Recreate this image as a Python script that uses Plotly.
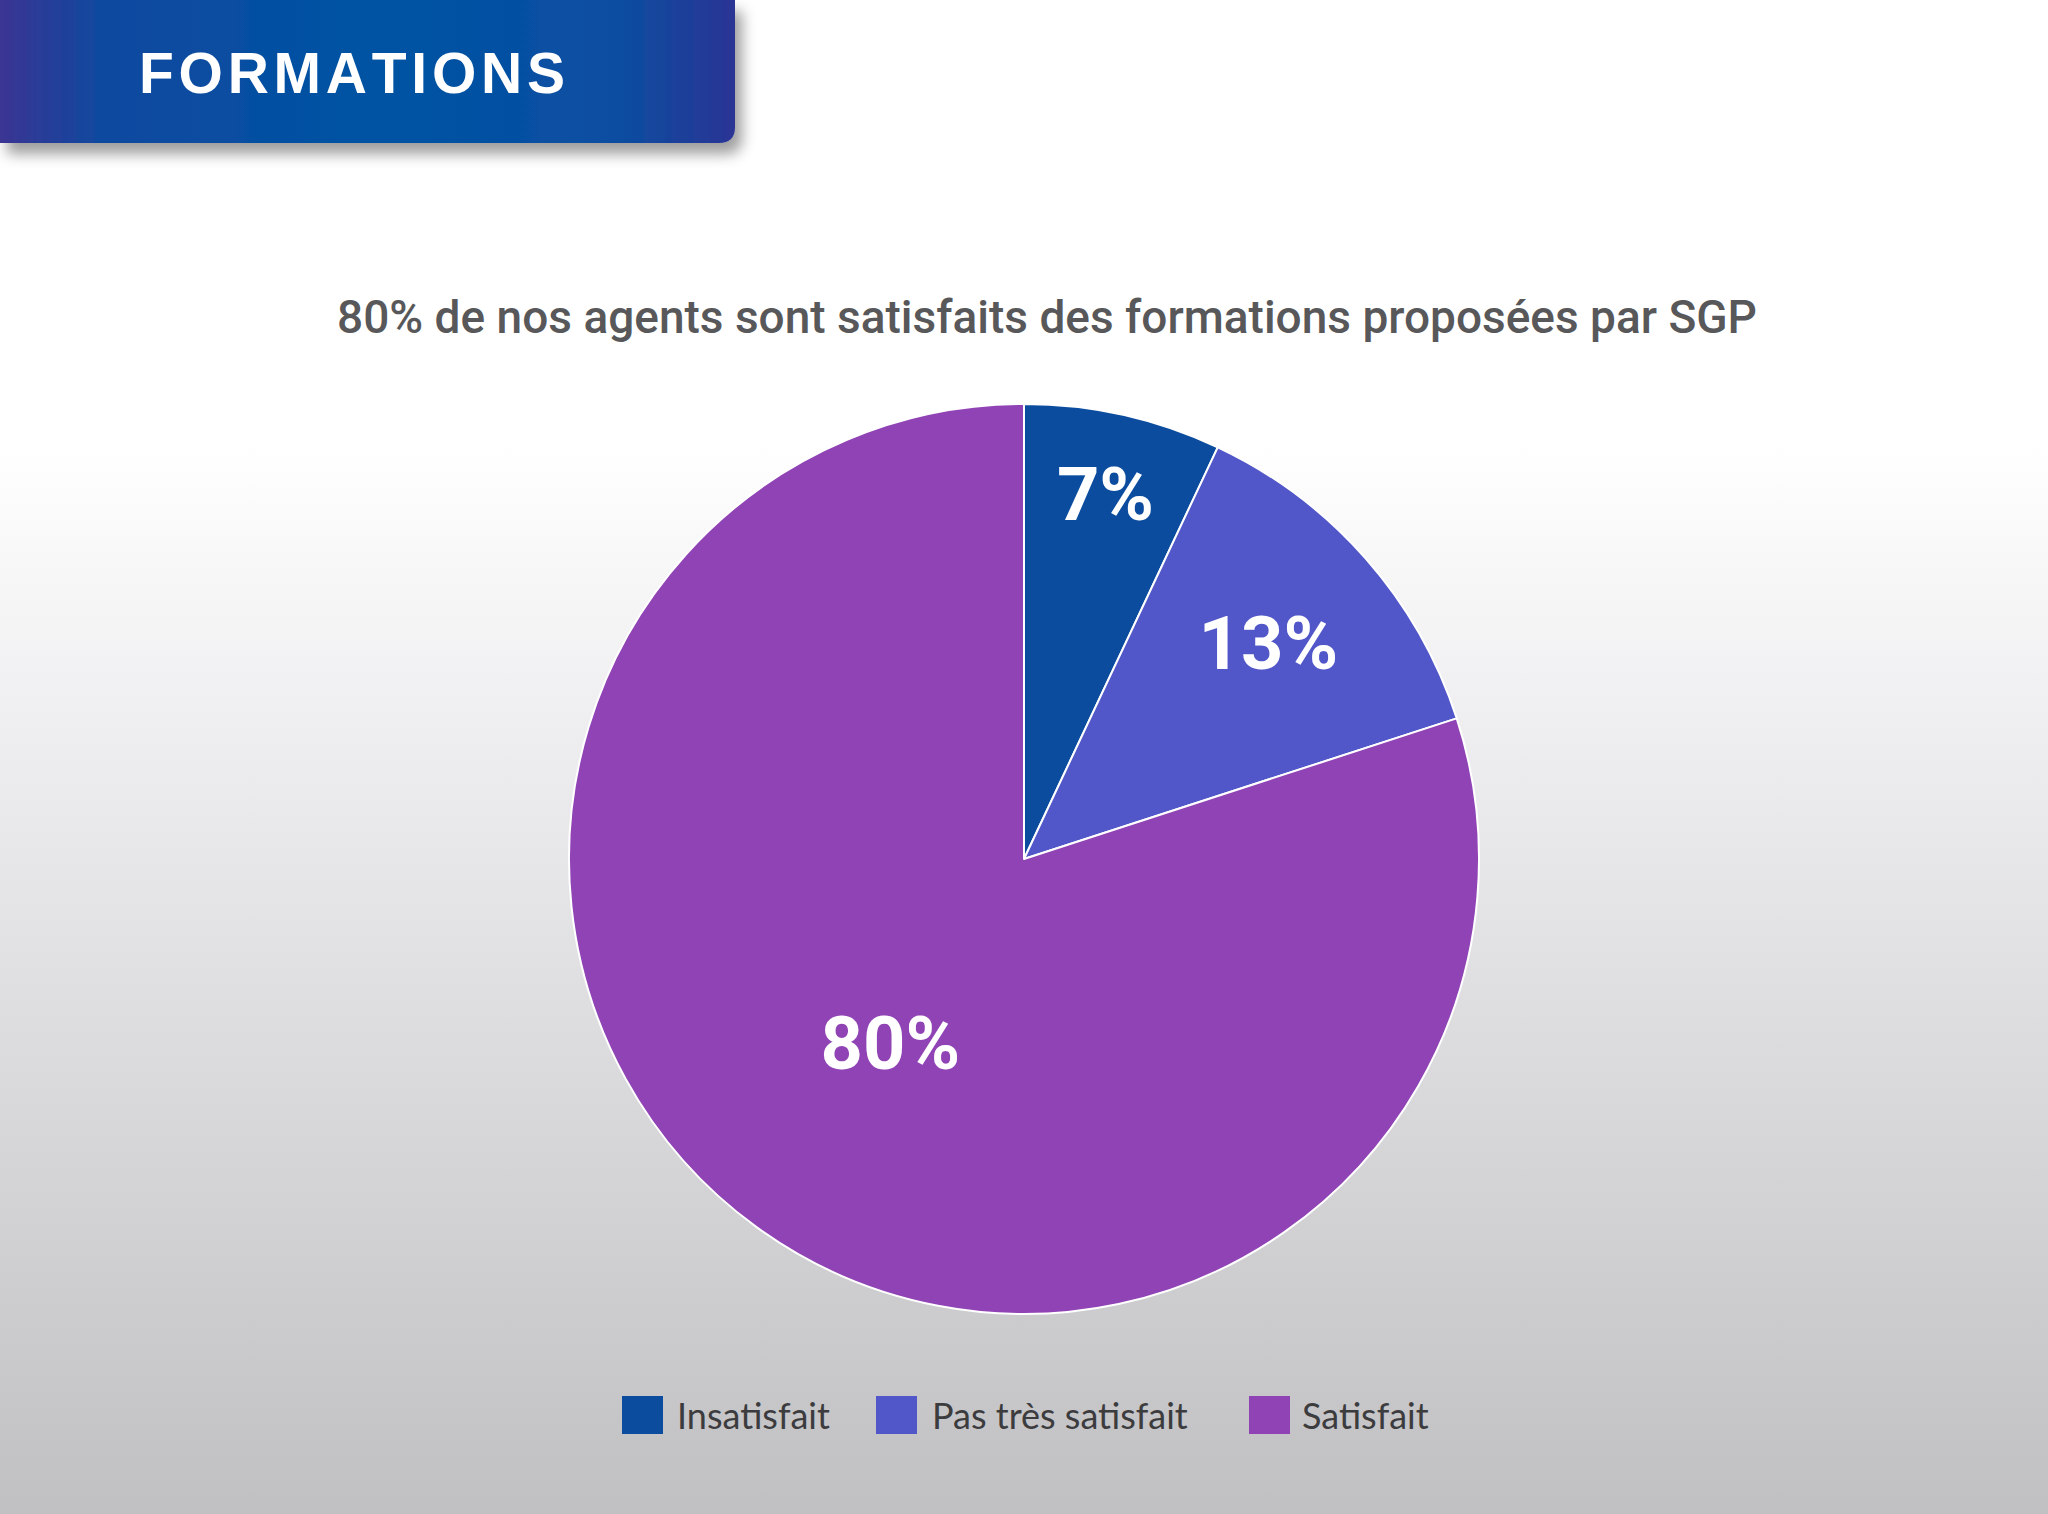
import base64
import plotly.graph_objects as go

# ---------------- data ----------------
labels = ["Insatisfait", "Pas très satisfait", "Satisfait"]
values = [7, 13, 80]
colors = ["#0b4c9f", "#5156c8", "#9043b5"]
title_text = "80% de nos agents sont satisfaits des formations proposées par SGP"
header_text = "FORMATIONS"

W, H = 2048, 1514


def px(x):
    return x / W


def py(y):
    return 1 - y / H


def svg_uri(svg):
    return "data:image/svg+xml;base64," + base64.b64encode(svg.encode("utf-8")).decode("ascii")


bg_svg = f'''<svg xmlns="http://www.w3.org/2000/svg" width="{W}" height="{H}" viewBox="0 0 {W} {H}" preserveAspectRatio="none">
<defs><linearGradient id="g" x1="0" y1="0" x2="0" y2="1">
<stop offset="0" stop-color="#ffffff"/><stop offset="0.29" stop-color="#ffffff"/>
<stop offset="0.62" stop-color="#e2e1e4"/><stop offset="1" stop-color="#c0bfc2"/></linearGradient></defs>
<rect width="{W}" height="{H}" fill="url(#g)"/></svg>'''

BW, BH = 790, 200
banner_svg = f'''<svg xmlns="http://www.w3.org/2000/svg" width="{BW}" height="{BH}" viewBox="0 0 {BW} {BH}" preserveAspectRatio="none">
<defs>
<linearGradient id="b" x1="0" y1="0" x2="1" y2="0">
<stop offset="0" stop-color="#3b3493"/><stop offset="0.14" stop-color="#0e499f"/>
<stop offset="0.5" stop-color="#0053a3"/><stop offset="0.84" stop-color="#0a4ea1"/>
<stop offset="1" stop-color="#2b3494"/></linearGradient>
<filter id="s" x="-10%" y="-10%" width="130%" height="160%">
<feDropShadow dx="7" dy="11" stdDeviation="7" flood-color="#000000" flood-opacity="0.38"/></filter>
</defs>
<path d="M0,0 H735 V127 Q735,143 719,143 H0 Z" fill="url(#b)" filter="url(#s)"/>
</svg>'''

fig = go.Figure()

fig.add_trace(go.Pie(
    labels=labels,
    values=values,
    sort=False,
    direction="clockwise",
    rotation=0,
    marker=dict(colors=colors, line=dict(color="#ffffff", width=2)),
    texttemplate="%{value}%",
    textposition="inside",
    insidetextorientation="horizontal",
    textfont=dict(family="Roboto", size=74, color="#ffffff", weight="bold"),
    hoverinfo="label+percent",
    showlegend=False,
    domain=dict(x=[px(1024 - 455), px(1024 + 455)], y=[py(859 + 455), py(859 - 455)]),
))

annotations = [
    dict(text="\u200a".join(header_text), x=px(137), y=py(73), xref="paper", yref="paper",
         xanchor="left", yanchor="middle", showarrow=False,
         font=dict(family="Liberation Sans", size=57, color="#ffffff", weight="bold")),
    dict(text=title_text, x=px(1047), y=py(317), xref="paper", yref="paper",
         xanchor="center", yanchor="middle", showarrow=False,
         font=dict(family="Roboto", size=46, color="#58585a", weight=500)),
]

# custom legend
sw_x = [622, 876, 1249]
txt_x = [675, 930, 1300]
shapes = []
for lab, col, sx, tx in zip(labels, colors, sw_x, txt_x):
    shapes.append(dict(type="rect", xref="paper", yref="paper",
                       x0=px(sx), x1=px(sx + 41), y0=py(1434), y1=py(1396),
                       fillcolor=col, line=dict(width=0)))
    annotations.append(dict(text=lab, x=px(tx), y=py(1415), xref="paper", yref="paper",
                            xanchor="left", yanchor="middle", showarrow=False,
                            font=dict(family="Lato", size=36, color="#3c3c3e")))

fig.update_layout(
    width=W, height=H,
    margin=dict(l=0, r=0, t=0, b=0),
    paper_bgcolor="#ffffff",
    plot_bgcolor="rgba(0,0,0,0)",
    showlegend=False,
    annotations=annotations,
    shapes=shapes,
    images=[
        dict(source=svg_uri(bg_svg), xref="paper", yref="paper", x=0, y=1, sizex=1, sizey=1,
             xanchor="left", yanchor="top", sizing="stretch", layer="below"),
        dict(source=svg_uri(banner_svg), xref="paper", yref="paper", x=0, y=1,
             sizex=BW / W, sizey=BH / H, xanchor="left", yanchor="top", sizing="stretch", layer="below"),
    ],
)

fig.write_html("out.html")
